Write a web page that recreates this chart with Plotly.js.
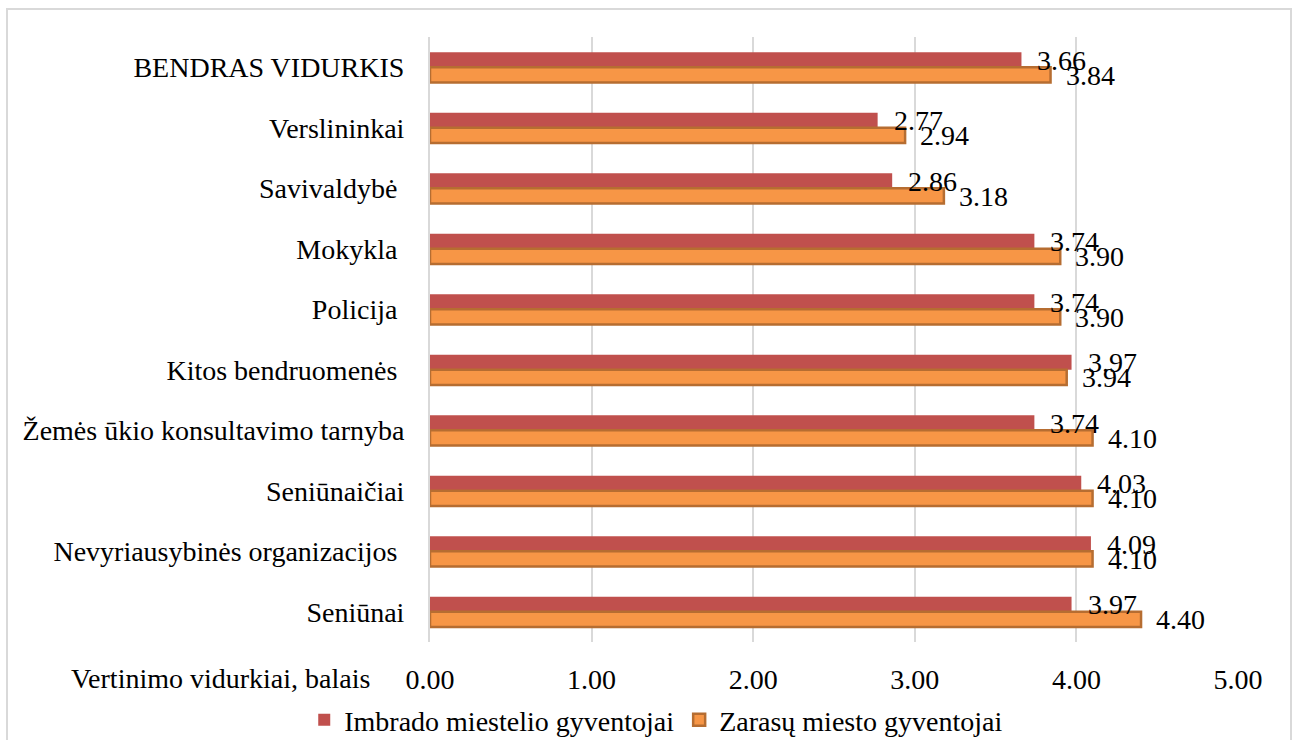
<!DOCTYPE html>
<html><head><meta charset="utf-8">
<script src="https://cdn.plot.ly/plotly-3.0.1.min.js"></script>
<style>
html,body{margin:0;padding:0;background:#fff;}
#chart{width:1297px;height:740px;}
#frame{position:absolute;left:6px;top:8px;width:1282px;height:740px;border:2px solid #d9d9d9;pointer-events:none;}
</style></head>
<body>
<div id="chart"></div>
<div id="frame"></div>
<script>
const categories = ["BENDRAS VIDURKIS","Verslininkai","Savivaldybė ","Mokykla ","Policija ","Kitos bendruomenės ","Žemės ūkio konsultavimo tarnyba","Seniūnaičiai","Nevyriausybinės organizacijos ","Seniūnai"];
const imbrado = [3.66,2.77,2.86,3.74,3.74,3.97,3.74,4.03,4.09,3.97];
const zarasu = [3.84,2.94,3.18,3.90,3.90,3.94,4.10,4.10,4.10,4.40];
const seriesNames = ["Imbrado miestelio gyventojai","Zarasų miesto gyventojai"];
const xTicks = [0,1,2,3,4,5];
const axisTitle = "Vertinimo vidurkiai, balais";

const FONT = "serif";
const FS = 28;
const traces = [
  {type:'bar', orientation:'h', name:seriesNames[0], y:categories, x:imbrado,
   marker:{color:'#C0504D', line:{width:0}}, hoverinfo:'x'},
  {type:'bar', orientation:'h', name:seriesNames[1], y:categories, x:zarasu,
   marker:{color:'#F79646', line:{color:'#B66D31', width:2.5}}, hoverinfo:'x'}
];
const annotations = [];
categories.forEach((c,i)=>{
  annotations.push({x:imbrado[i], y:c, xref:'x', yref:'y', text:imbrado[i].toFixed(2), showarrow:false,
    xanchor:'left', yanchor:'middle', xshift:14, yshift:7, font:{family:FONT,size:FS,color:'#000'}});
  annotations.push({x:zarasu[i], y:c, xref:'x', yref:'y', text:zarasu[i].toFixed(2), showarrow:false,
    xanchor:'left', yanchor:'middle', xshift:13, yshift:-8, font:{family:FONT,size:FS,color:'#000'}});
});
annotations.push({xref:'paper', yref:'paper', x:-0.072, y:-0.06, yshift:0, xanchor:'right', yanchor:'middle',
  text:axisTitle, showarrow:false, font:{family:FONT,size:FS,color:'#000'}});

const layout = {
  width:1297, height:740,
  margin:{l:430, r:59, t:37, b:98, autoexpand:false},
  paper_bgcolor:'#fff', plot_bgcolor:'#fff',
  font:{family:FONT, size:FS, color:'#000'},
  barmode:'group', bargap:0.5, bargroupgap:0,
  showlegend:true,
  legend:{orientation:'h', x:0.28, xanchor:'center', yref:'container', y:0.027, yanchor:'middle',
    bgcolor:'rgba(0,0,0,0)', font:{family:FONT,size:FS,color:'#000'}, itemwidth:30},
  xaxis:{range:[0,5], tickvals:xTicks, ticktext:xTicks.map(v=>v.toFixed(2)), automargin:false,
    showgrid:true, gridcolor:'#d9d9d9', gridwidth:2, zeroline:false, showline:false,
    ticks:'outside', ticklen:12, tickcolor:'rgba(0,0,0,0)', fixedrange:true},
  yaxis:{type:'category', autorange:'reversed', showgrid:false, zeroline:false, automargin:false,
    showline:true, linecolor:'#d9d9d9', linewidth:2,
    ticks:'outside', ticklen:18, tickcolor:'rgba(0,0,0,0)', fixedrange:true},
  annotations:annotations
};
Plotly.newPlot('chart', traces, layout, {displayModeBar:false, staticPlot:true});
</script>
</body></html>
